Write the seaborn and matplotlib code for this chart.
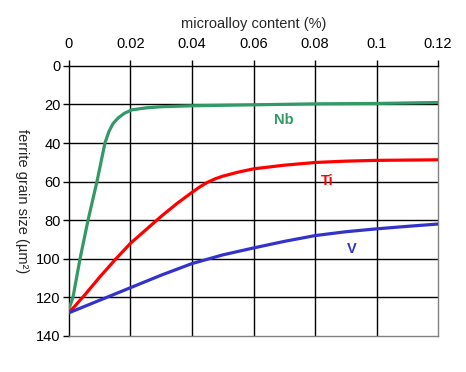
import pandas as pd
import matplotlib
matplotlib.use('Agg')
import matplotlib.pyplot as plt
import seaborn as sns

sns.set_style('white')
plt.rcParams['font.family'] = ['Liberation Sans', 'DejaVu Sans']

# curves
nb_x = [0, 0.0013, 0.0036, 0.0062, 0.0091, 0.0117, 0.013, 0.0143, 0.016, 0.018, 0.0205, 0.025, 0.03, 0.04, 0.06, 0.08, 0.10, 0.12]
nb_y = [126, 120, 100, 80, 60, 40, 34, 30, 27, 24.6, 22.8, 21.8, 21.2, 20.7, 20.2, 19.7, 19.5, 19.0]

ti_x = [0, 0.005, 0.01, 0.015, 0.02, 0.025, 0.03, 0.035, 0.04, 0.0425, 0.045, 0.0475, 0.05, 0.055, 0.06, 0.07, 0.08, 0.09, 0.10, 0.12]
ti_y = [128, 119, 109.5, 100.5, 92, 85, 78, 71.5, 65.6, 62.8, 60.4, 58.6, 57.2, 55.1, 53.4, 51.5, 50.1, 49.4, 49.0, 48.7]

v_x = [0, 0.01, 0.02, 0.03, 0.04, 0.05, 0.06, 0.07, 0.08, 0.09, 0.10, 0.11, 0.12]
v_y = [128, 121.5, 115, 108.5, 102.5, 98, 94.4, 91, 88, 86, 84.5, 83.2, 82]

x_ticks = [0, 0.02, 0.04, 0.06, 0.08, 0.10, 0.12]
x_tick_labels = ['0', '0.02', '0.04', '0.06', '0.08', '0.1', '0.12']
y_ticks = [0, 20, 40, 60, 80, 100, 120, 140]

# label name, x, y
labels = [('Nb', 0.070, 28), ('Ti', 0.084, 59.6), ('V', 0.092, 95)]
colors = {'Nb': '#339966', 'Ti': '#FF0000', 'V': '#3333CC'}

df = pd.concat([
    pd.DataFrame({'x': nb_x, 'y': nb_y, 'alloy': 'Nb'}),
    pd.DataFrame({'x': ti_x, 'y': ti_y, 'alloy': 'Ti'}),
    pd.DataFrame({'x': v_x, 'y': v_y, 'alloy': 'V'}),
])

fig = plt.figure(figsize=(4.66, 3.72), dpi=100)
ax = fig.add_axes([0.148, 0.097, 0.792, 0.726])

for xv in x_ticks[1:-1]:
    ax.axvline(xv, color='black', lw=1, zorder=1)
for yv in y_ticks[1:-1]:
    ax.axhline(yv, color='black', lw=1, zorder=1)

sns.lineplot(data=df, x='x', y='y', hue='alloy', palette=colors, lw=2.3,
             sort=False, estimator=None, legend=False, ax=ax, zorder=3)

for name, lx, ly in labels:
    ax.text(lx, ly, name, color=colors[name], fontsize=10.5, fontweight='bold',
            ha='center', va='center')

ax.set_xlim(0, 0.12)
ax.set_ylim(140, 0)
ax.set_xticks(x_ticks)
ax.set_xticklabels(x_tick_labels)
ax.set_yticks(y_ticks)
ax.xaxis.tick_top()
ax.xaxis.set_label_position('top')
ax.tick_params(axis='x', direction='out', length=4, width=1, pad=6.5, labelsize=10.5, colors='black')
ax.tick_params(axis='y', direction='out', length=4, width=1, pad=2, labelsize=10.5, colors='black')
ax.tick_params(left=True, top=True, bottom=False, right=False)

ax.set_xlabel('microalloy content (%)', fontsize=10.5, labelpad=7)
ax.set_ylabel('ferrite grain size (µm²)', fontsize=10.5, rotation=270, labelpad=15, va='bottom')

for side in ['left', 'top']:
    ax.spines[side].set_color('black')
    ax.spines[side].set_linewidth(1)
for side in ['right', 'bottom']:
    ax.spines[side].set_color('#808080')
    ax.spines[side].set_linewidth(1)

fig.savefig('out.png', dpi=100)
